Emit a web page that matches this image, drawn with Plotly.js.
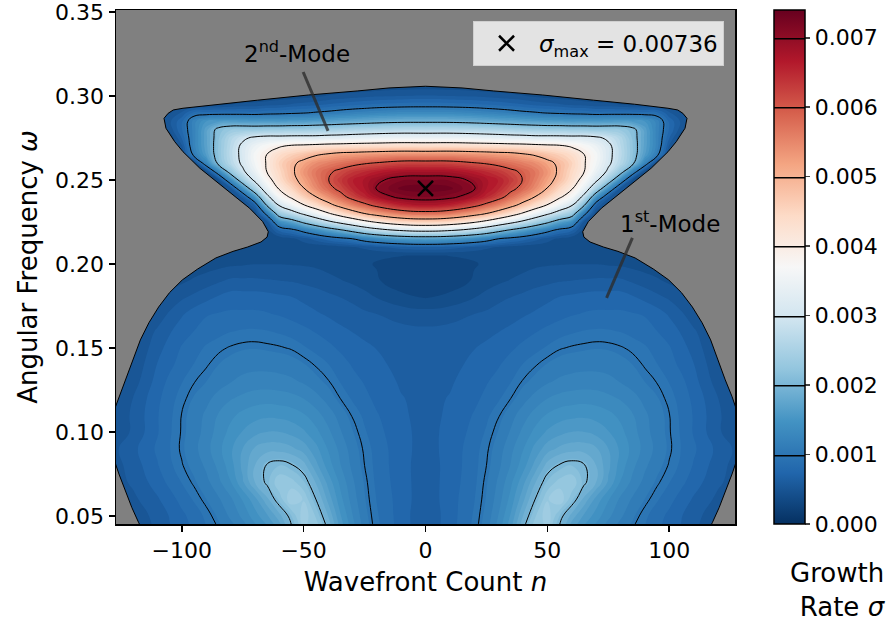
<!DOCTYPE html>
<html><head><meta charset="utf-8">
<script src="https://cdn.plot.ly/plotly-3.0.1.min.js"></script>
<style>html,body{margin:0;padding:0;background:#fff;}#chart{width:889px;height:624px;}</style>
</head><body><div id="chart"></div>
<script>
// Wavefront count (one half, the field is mirror-symmetric in n)
const nHalf = [0,10,20,25,30,35,40,45,50,55,60,65,70,75,80,85,90,95,100,105,110,120,130];
// Angular frequency rows
const omega = [0.04,0.05,0.06,0.07,0.08,0.09,0.10,0.11,0.12,0.13,0.14,0.15,0.16,0.17,0.18,0.19,0.20,
  0.205,0.21,0.215,0.22,0.225,0.23,0.235,0.24,0.245,0.25,0.255,0.26,0.265,0.27,0.275,0.28,0.285,0.29,0.295,0.30,0.305,0.31,0.32,0.36];
// Growth rate sigma (x 1e-3), one row per omega, columns follow nHalf
const sigmaMilliHalf = [
  [0.60,0.76,0.96,1.12,1.35,1.62,2.02,2.35,2.30,1.93,1.60,1.43,1.30,1.18,1.07,0.99,0.92,0.83,0.75,0.68,0.60,0.48,0.40],
  [0.60,0.75,0.94,1.08,1.28,1.52,1.85,2.18,2.40,2.08,1.80,1.60,1.45,1.30,1.18,1.06,0.95,0.86,0.78,0.70,0.62,0.50,0.40],
  [0.62,0.75,0.92,1.05,1.22,1.43,1.70,2.00,2.30,2.42,2.12,1.82,1.58,1.40,1.25,1.14,1.04,0.94,0.85,0.76,0.68,0.55,0.45],
  [0.63,0.74,0.90,1.03,1.18,1.36,1.58,1.84,2.10,2.25,2.30,2.04,1.85,1.60,1.38,1.24,1.12,1.02,0.93,0.84,0.75,0.60,0.50],
  [0.64,0.73,0.89,1.00,1.13,1.28,1.45,1.66,1.90,2.02,2.08,2.02,1.85,1.65,1.45,1.30,1.18,1.08,0.99,0.90,0.80,0.63,0.50],
  [0.65,0.73,0.88,0.98,1.10,1.24,1.38,1.54,1.68,1.76,1.80,1.80,1.75,1.62,1.48,1.35,1.23,1.12,1.02,0.92,0.83,0.66,0.52],
  [0.66,0.72,0.85,0.94,1.05,1.17,1.30,1.42,1.52,1.58,1.62,1.62,1.58,1.51,1.42,1.32,1.20,1.10,1.01,0.91,0.80,0.60,0.45],
  [0.66,0.71,0.82,0.90,0.99,1.11,1.22,1.32,1.40,1.45,1.47,1.48,1.46,1.42,1.36,1.28,1.18,1.09,1.005,0.90,0.80,0.60,0.45],
  [0.66,0.70,0.78,0.84,0.91,1.00,1.11,1.20,1.27,1.31,1.33,1.34,1.33,1.30,1.26,1.20,1.12,1.05,0.97,0.88,0.78,0.58,0.45],
  [0.65,0.68,0.75,0.80,0.85,0.92,1.01,1.08,1.14,1.18,1.20,1.21,1.21,1.19,1.15,1.10,1.04,0.995,0.92,0.84,0.74,0.52,0.40],
  [0.64,0.66,0.72,0.76,0.80,0.86,0.93,0.99,1.05,1.09,1.11,1.12,1.12,1.11,1.08,1.04,0.99,0.93,0.86,0.78,0.70,0.48,0.40],
  [0.63,0.64,0.69,0.72,0.75,0.79,0.84,0.89,0.94,0.99,1.012,1.025,1.035,1.03,1.01,0.98,0.94,0.88,0.82,0.74,0.65,0.45,0.40],
  [0.60,0.61,0.64,0.66,0.69,0.72,0.76,0.80,0.84,0.88,0.91,0.93,0.94,0.935,0.92,0.89,0.86,0.81,0.76,0.68,0.60,0.42,0.40],
  [0.52,0.54,0.58,0.60,0.63,0.65,0.68,0.71,0.74,0.77,0.80,0.82,0.83,0.83,0.83,0.82,0.80,0.75,0.68,0.60,0.50,0.40,0.40],
  [0.34,0.38,0.46,0.51,0.55,0.58,0.61,0.64,0.67,0.70,0.72,0.74,0.75,0.75,0.75,0.71,0.66,0.61,0.56,0.49,0.42,0.40,0.40],
  [0.24,0.28,0.36,0.40,0.44,0.47,0.50,0.53,0.55,0.57,0.58,0.59,0.60,0.60,0.60,0.56,0.52,0.48,0.44,0.42,0.40,0.40,0.40],
  [0.30,0.31,0.34,0.36,0.38,0.40,0.42,0.44,0.45,0.455,0.46,0.46,0.46,0.45,0.44,0.42,0.40,0.39,0.38,0.37,0.36,0.35,0.35],
  [0.34,0.35,0.36,0.36,0.37,0.375,0.38,0.39,0.40,0.40,0.40,0.39,0.38,0.37,0.36,0.355,0.35,0.35,0.35,0.35,0.35,0.35,0.35],
  [0.68,0.64,0.55,0.49,0.45,0.41,0.38,0.38,0.38,0.375,0.37,0.36,0.35,0.35,0.35,0.35,0.35,0.35,0.35,0.35,0.35,0.35,0.35],
  [1.63,1.56,1.35,1.20,1.00,0.88,0.77,0.64,0.52,0.43,0.37,0.35,0.35,0.35,0.35,0.35,0.35,0.35,0.35,0.35,0.35,0.35,0.35],
  [3.15,3.04,2.72,2.48,2.18,1.89,1.64,1.37,1.12,0.87,0.72,0.40,0.38,0.35,0.35,0.35,0.35,0.35,0.35,0.35,0.35,0.35,0.35],
  [4.57,4.44,4.07,3.81,3.50,3.18,2.85,2.48,2.11,1.70,1.40,0.53,0.45,0.35,0.35,0.35,0.35,0.35,0.35,0.35,0.35,0.35,0.35],
  [5.77,5.65,5.25,4.99,4.68,4.32,3.92,3.51,3.10,2.70,2.33,1.14,0.40,0.35,0.35,0.35,0.35,0.35,0.35,0.35,0.35,0.35,0.35],
  [6.70,6.56,6.15,5.85,5.55,5.19,4.79,4.37,3.96,3.49,3.05,2.07,0.71,0.35,0.35,0.35,0.35,0.35,0.35,0.35,0.35,0.35,0.35],
  [7.18,7.10,6.80,6.52,6.20,5.79,5.40,4.99,4.58,4.10,3.66,2.84,1.55,0.63,0.35,0.35,0.35,0.35,0.35,0.35,0.35,0.35,0.35],
  [7.36,7.32,7.03,6.71,6.50,6.15,5.83,5.45,4.98,4.50,4.06,3.42,2.51,1.46,0.54,0.35,0.35,0.35,0.35,0.35,0.35,0.35,0.35],
  [7.18,7.15,6.93,6.73,6.58,6.32,5.98,5.61,5.20,4.81,4.34,3.77,3.12,2.39,1.37,0.44,0.35,0.35,0.35,0.35,0.35,0.35,0.35],
  [6.80,6.78,6.60,6.47,6.33,6.12,5.91,5.66,5.33,4.89,4.45,4.02,3.43,2.90,2.26,1.28,0.42,0.35,0.35,0.35,0.35,0.35,0.35],
  [6.20,6.19,6.04,5.96,5.85,5.72,5.58,5.43,5.17,4.87,4.54,4.05,3.59,3.10,2.64,2.11,1.26,0.35,0.35,0.35,0.35,0.35,0.35],
  [5.43,5.44,5.37,5.33,5.27,5.23,5.10,4.95,4.76,4.58,4.37,4.02,3.64,3.14,2.71,2.20,1.62,1.09,0.40,0.35,0.35,0.35,0.35],
  [4.40,4.42,4.38,4.36,4.34,4.31,4.28,4.23,4.17,4.12,3.95,3.74,3.48,3.12,2.68,2.20,1.69,1.22,0.55,0.35,0.35,0.35,0.35],
  [3.47,3.47,3.42,3.39,3.35,3.30,3.28,3.22,3.23,3.22,3.20,3.20,3.11,2.90,2.60,2.17,1.70,1.22,0.70,0.35,0.35,0.35,0.35],
  [2.64,2.65,2.60,2.56,2.52,2.48,2.44,2.41,2.37,2.37,2.35,2.34,2.31,2.32,2.29,2.12,1.68,1.22,0.80,0.50,0.35,0.35,0.35],
  [1.90,1.89,1.84,1.80,1.76,1.72,1.67,1.63,1.60,1.58,1.55,1.56,1.56,1.58,1.60,1.57,1.50,1.22,0.78,0.55,0.40,0.35,0.35],
  [1.32,1.31,1.26,1.22,1.18,1.13,1.07,1.03,0.98,0.95,0.92,0.90,0.86,0.87,0.87,0.87,0.85,0.85,0.60,0.45,0.35,0.35,0.35],
  [0.87,0.86,0.83,0.80,0.77,0.73,0.70,0.65,0.62,0.59,0.55,0.53,0.50,0.49,0.46,0.42,0.42,0.40,0.38,0.35,0.35,0.35,0.35],
  [0.59,0.58,0.56,0.54,0.52,0.50,0.47,0.44,0.41,0.39,0.38,0.35,0.35,0.35,0.35,0.35,0.35,0.35,0.35,0.35,0.35,0.35,0.35],
  [0.43,0.42,0.40,0.39,0.38,0.37,0.37,0.35,0.35,0.35,0.35,0.35,0.35,0.35,0.35,0.35,0.35,0.35,0.35,0.35,0.35,0.35,0.35],
  [0.35,0.35,0.35,0.35,0.35,0.35,0.35,0.35,0.35,0.35,0.35,0.35,0.35,0.35,0.35,0.35,0.35,0.35,0.35,0.35,0.35,0.35,0.35],
  [0.35,0.35,0.35,0.35,0.35,0.35,0.35,0.35,0.35,0.35,0.35,0.35,0.35,0.35,0.35,0.35,0.35,0.35,0.35,0.35,0.35,0.35,0.35],
  [0.35,0.35,0.35,0.35,0.35,0.35,0.35,0.35,0.35,0.35,0.35,0.35,0.35,0.35,0.35,0.35,0.35,0.35,0.35,0.35,0.35,0.35,0.35]
];
// Edge of the unstable region: omega and half-width |n|
const edgeOmega = [0.040,0.046,0.055,0.065,0.075,0.081,0.090,0.100,0.108,0.115,0.121,0.131,0.141,0.1548,0.165,0.1744,0.183,0.1905,0.197,0.2036,0.2075,0.2101,0.2131,0.216,0.2192,0.2252,0.2332,0.2411,0.249,0.257,0.2668,0.2728,0.2808,0.2867,0.2897,0.2917,0.2927,0.2951,0.2975,0.3006,0.3030,0.3048,0.3058];
const edgeHalfWidth = [115.5,117.7,120.5,123.3,125.8,127.2,128.3,128.8,128.3,127.2,125.8,123,120.5,117,113.5,109.5,105,99.8,93.5,86,79,73,67.5,65,64.5,66.8,72.2,79,85.8,92.6,99.5,102.9,106.5,107.3,105.6,103.5,99.5,85.8,69,48,28,15,0];

const peakN = [0], peakOmega = [0.245], sigmaMax = 0.00736;
const sigmaTop = 0.0074;
const cbLabels = ['0.000','0.001','0.002','0.003','0.004','0.005','0.006','0.007'];
const cbTicks = [0,0.001,0.002,0.003,0.004,0.005,0.006,0.007];
const xTicks = [-100,-50,0,50,100];
const yTicks = [0.05,0.10,0.15,0.20,0.25,0.30,0.35];

const RdBu_r = [[0,'#053061'],[0.1,'#2166ac'],[0.2,'#4393c3'],[0.3,'#92c5de'],[0.4,'#d1e5f0'],[0.5,'#f7f7f7'],[0.6,'#fddbc7'],[0.7,'#f4a582'],[0.8,'#d6604d'],[0.9,'#b2182b'],[1,'#67001f']];

// full table (mirror in n)
const nFull = nHalf.slice(1).reverse().map(v => -v).concat(nHalf);
const Z = sigmaMilliHalf.map(r => r.slice(1).reverse().concat(r).map(v => v * 1e-3));

// mask polygon outside the edge
const N = edgeOmega.length;
const edgeX = edgeHalfWidth.concat(edgeHalfWidth.slice(0, N - 1).reverse().map(v => -v));
const edgeY = edgeOmega.concat(edgeOmega.slice(0, N - 1).reverse());
const maskX = edgeX.concat([-140, -140, 140, 140]);
const maskY = edgeY.concat([0.0, 0.40, 0.40, 0.0]);

const font = 'DejaVu Sans';
const traces = [
  {type:'contour', x:nFull, y:omega, z:Z, zauto:false, zmin:0, zmax:sigmaTop, colorscale:RdBu_r,
   autocontour:false, contours:{start:0, end:sigmaTop, size:sigmaTop/64, coloring:'fill', showlines:false},
   line:{width:0, smoothing:1.3}, showscale:false, showlegend:false, hoverinfo:'skip'},
  {type:'contour', x:nFull, y:omega, z:Z, autocontour:false,
   contours:{start:0.001, end:0.007, size:0.001, coloring:'none'},
   line:{color:'#000', width:1, smoothing:1.3}, showscale:false, showlegend:false, hoverinfo:'skip'},
  {type:'scatter', x:maskX, y:maskY, mode:'lines', fill:'toself', fillcolor:'#808080',
   line:{width:0, color:'#808080'}, showlegend:false, hoverinfo:'skip'},
  {type:'scatter', x:edgeX, y:edgeY, mode:'lines', line:{color:'#000', width:1},
   showlegend:false, hoverinfo:'skip'},
  // colorbar carrier (data placed outside visible range)
  {type:'contour', x:[400,401], y:[5,6], z:[[0,sigmaTop],[0,sigmaTop]], zauto:false, zmin:0, zmax:sigmaTop,
   colorscale:RdBu_r, autocontour:false, showlegend:false,
   contours:{start:0.001, end:0.007, size:0.001, coloring:'heatmap', showlines:true},
   line:{color:'#000', width:1.5}, showscale:true, hoverinfo:'skip',
   colorbar:{x:1.0627, xanchor:'left', xpad:0, y:0.5, yanchor:'middle', ypad:0, len:1, lenmode:'fraction',
     thickness:31, outlinewidth:1.5, outlinecolor:'#000', tickvals:cbTicks, ticktext:cbLabels,
     ticks:'outside', ticklen:5, tickwidth:1.5, tickfont:{size:22, family:font, color:'#000'}}},
  {type:'scatter', x:peakN, y:peakOmega, mode:'markers', name:'<i>σ</i><sub>max</sub> = ' + sigmaMax.toFixed(5),
   showlegend:true, marker:{symbol:'x-thin', size:15, color:'#000', line:{width:2.5, color:'#000'}}, hoverinfo:'skip'}
];

const layout = {
  width:889, height:624,
  margin:{l:116, r:151, t:10, b:100},
  paper_bgcolor:'#fff', plot_bgcolor:'#808080',
  font:{family:font, size:22, color:'#000'},
  hovermode:false,
  xaxis:{range:[-127,127], tickvals:xTicks, ticks:'outside', ticklen:6, tickwidth:1.5, tickcolor:'#000',
    showline:true, mirror:true, linewidth:1.5, linecolor:'#000', showgrid:false, zeroline:false, ticklabeloverflow:'allow',
    tickfont:{size:22}, title:{text:'Wavefront Count <i>n</i>', font:{size:26}, standoff:11}},
  yaxis:{range:[0.0452,0.3512], tickvals:yTicks, tickformat:'.2f', ticks:'outside', ticklen:6, tickwidth:1.5, tickcolor:'#000',
    showline:true, mirror:true, linewidth:1.5, linecolor:'#000', showgrid:false, zeroline:false, ticklabeloverflow:'allow',
    tickfont:{size:22}, title:{text:'Angular Frequency <i>ω</i>', font:{size:26}, standoff:10}},
  showlegend:true,
  legend:{x:0.9823, xanchor:'right', y:0.979, yanchor:'top', bgcolor:'rgba(232,232,232,0.95)',
    bordercolor:'#cfcfcf', borderwidth:1, font:{size:23}, itemwidth:55},
  annotations:[
    {xref:'x', yref:'y', x:-52.7, y:0.3262, text:'2<sup>nd</sup>-Mode', showarrow:false, font:{size:23}},
    {xref:'x', yref:'y', x:100.4, y:0.225, text:'1<sup>st</sup>-Mode', showarrow:false, font:{size:23}},
    {xref:'paper', yref:'paper', x:1.2476, xanchor:'right', y:-0.128, yanchor:'middle', align:'right',
     text:'Growth<br>Rate <i>σ</i>', showarrow:false, font:{size:26}}
  ],
  shapes:[
    {type:'line', xref:'x', yref:'y', x0:-50.2, y0:0.3143, x1:-40, y1:0.2792, line:{color:'rgba(45,45,45,0.8)', width:3}},
    {type:'line', xref:'x', yref:'y', x0:84.9, y0:0.2155, x1:74.3, y1:0.1798, line:{color:'rgba(45,45,45,0.8)', width:3}}
  ]
};
Plotly.newPlot('chart', traces, layout, {displayModeBar:false, staticPlot:true});
</script></body></html>
